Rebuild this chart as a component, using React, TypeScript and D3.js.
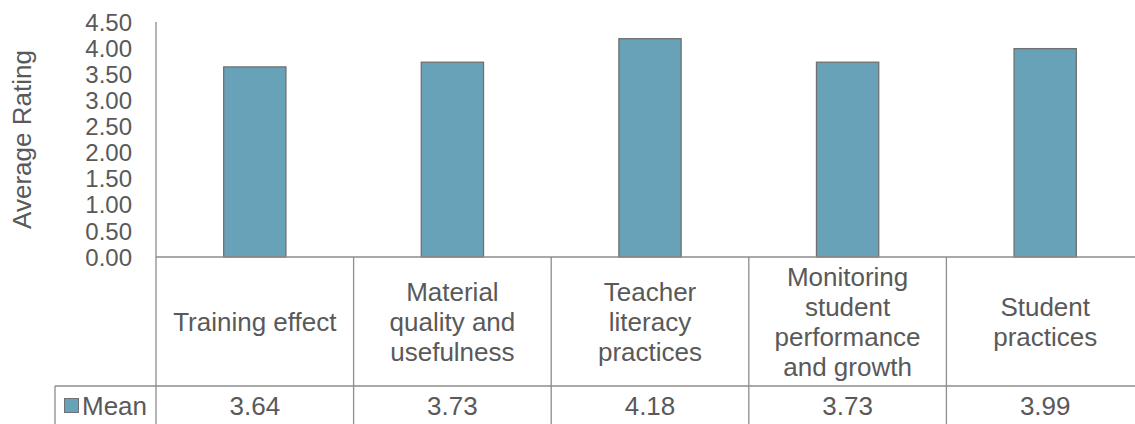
import React, { useMemo } from "react";
import * as d3 from "d3";

// Survey domains and their mean ratings
const categories: string[] = [
  "Training effect",
  "Material quality and usefulness",
  "Teacher literacy practices",
  "Monitoring student performance and growth",
  "Student practices",
];
const meanValues: number[] = [3.64, 3.73, 4.18, 3.73, 3.99];
const yTicks: number[] = [0, 0.5, 1, 1.5, 2, 2.5, 3, 3.5, 4, 4.5];
const seriesName = "Mean";
const yTitle = "Average Rating";

const W = 1135;
const H = 424;
const FONT = "'Liberation Sans', Arial, sans-serif";
const FS = 26;
const TICK_FS = 24;
const TEXT = "#595959";
const LINE = "#8c8c8c";
const BAR = "#68a2b9";
const BAR_EDGE = "#707070";

const plotLeft = 156;
const plotRight = 1144;
const plotTop = 22;
const axisY = 257;
const headerBottom = 386;
const rowBottom = 425;
const legendLeft = 55;
const lineHeight = 30;
const wrapWidth = 170;

function wrapLabel(text: string, maxWidth: number): string[] {
  const canvas = document.createElement("canvas");
  const ctx = canvas.getContext("2d")!;
  ctx.font = `${FS}px ${FONT}`;
  const words = text.split(" ");
  const lines: string[] = [];
  let cur = "";
  for (const w of words) {
    const trial = cur ? cur + " " + w : w;
    if (cur && ctx.measureText(trial).width > maxWidth) {
      lines.push(cur);
      cur = w;
    } else {
      cur = trial;
    }
  }
  if (cur) lines.push(cur);
  return lines;
}

export default function App() {
  const x = d3.scaleBand<string>().domain(categories).range([plotLeft, plotRight]).paddingInner(0).paddingOuter(0);
  const y = d3.scaleLinear().domain([0, 4.5]).range([axisY, plotTop]);
  const barW = x.bandwidth() * 0.315;
  const wrapped = useMemo(() => categories.map((c) => wrapLabel(c, wrapWidth)), []);
  const headerMid = (axisY + headerBottom) / 2;
  const rowMid = (headerBottom + rowBottom) / 2;

  return (
    <svg
      width={W}
      height={H}
      style={{ position: "absolute", left: 0, top: 0, background: "#fff" }}
      fontFamily={FONT}
    >
      {/* y-axis title */}
      <text
        transform={`translate(${31},${(plotTop + axisY) / 2}) rotate(-90)`}
        textAnchor="middle"
        fontSize={FS}
        fill={TEXT}
      >
        {yTitle}
      </text>

      {/* y tick labels */}
      {yTicks.map((t) => (
        <text key={t} x={132} y={y(t)} dy="0.36em" textAnchor="end" fontSize={TICK_FS} fill={TEXT}>
          {d3.format(".2f")(t)}
        </text>
      ))}

      {/* bars */}
      {categories.map((c, i) => (
        <rect
          key={c}
          x={x(c)! + (x.bandwidth() - barW) / 2}
          y={y(meanValues[i])}
          width={barW}
          height={y(0) - y(meanValues[i])}
          fill={BAR}
          stroke={BAR_EDGE}
          strokeWidth={1.3}
        />
      ))}

      {/* value axis line */}
      <line x1={plotLeft} x2={plotLeft} y1={plotTop} y2={axisY} stroke={LINE} strokeWidth={1.3} />

      {/* data table grid */}
      <line x1={plotLeft} x2={plotRight} y1={axisY} y2={axisY} stroke={LINE} strokeWidth={1.3} />
      <line x1={legendLeft} x2={plotRight} y1={headerBottom} y2={headerBottom} stroke={LINE} strokeWidth={1.3} />
      <line x1={legendLeft} x2={plotRight} y1={rowBottom} y2={rowBottom} stroke={LINE} strokeWidth={1.3} />
      <line x1={legendLeft} x2={legendLeft} y1={headerBottom} y2={rowBottom} stroke={LINE} strokeWidth={1.3} />
      {[...categories.map((c) => x(c)!), plotRight].map((bx, i) => (
        <line key={i} x1={bx} x2={bx} y1={axisY} y2={rowBottom} stroke={LINE} strokeWidth={1.3} />
      ))}

      {/* category headers */}
      {categories.map((c, i) => {
        const lines = wrapped[i];
        const cx = x(c)! + x.bandwidth() / 2;
        return (
          <text key={c} textAnchor="middle" fontSize={FS} fill={TEXT}>
            {lines.map((ln, j) => (
              <tspan key={j} x={cx} y={headerMid + (j - (lines.length - 1) / 2) * lineHeight} dy="0.36em">
                {ln}
              </tspan>
            ))}
          </text>
        );
      })}

      {/* legend key + series label */}
      <rect x={64.5} y={398.5} width={14} height={14} fill={BAR} stroke={BAR_EDGE} strokeWidth={1} />
      <text x={82} y={rowMid} dy="0.36em" fontSize={FS} fill={TEXT}>
        {seriesName}
      </text>

      {/* value row */}
      {categories.map((c, i) => (
        <text key={c} x={x(c)! + x.bandwidth() / 2} y={rowMid} dy="0.36em" textAnchor="middle" fontSize={FS} fill={TEXT}>
          {d3.format(".2f")(meanValues[i])}
        </text>
      ))}
    </svg>
  );
}
